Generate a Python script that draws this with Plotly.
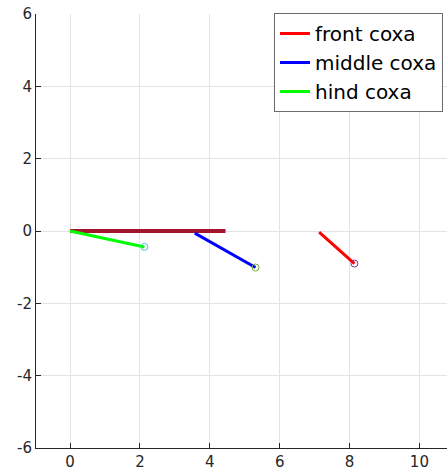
import plotly.graph_objects as go

# Data
body_x = [0.0, 4.45]
body_y = [0.0, 0.0]
front_x = [7.13, 8.14]
front_y = [-0.03, -0.90]
middle_x = [3.57, 5.31]
middle_y = [-0.06, -1.01]
hind_x = [0.0, 2.13]
hind_y = [0.0, -0.44]

x_ticks = [0, 2, 4, 6, 8, 10]
y_ticks = [-6, -4, -2, 0, 2, 4, 6]

font = "DejaVu Sans"
fig = go.Figure()
fig.add_trace(go.Scatter(x=body_x, y=body_y, mode="lines",
                         line=dict(color="#A2142F", width=4), showlegend=False))
fig.add_trace(go.Scatter(x=front_x, y=front_y, mode="lines", name="front coxa",
                         line=dict(color="#FF0000", width=3)))
fig.add_trace(go.Scatter(x=middle_x, y=middle_y, mode="lines", name="middle coxa",
                         line=dict(color="#0000FF", width=3)))
fig.add_trace(go.Scatter(x=hind_x, y=hind_y, mode="lines", name="hind coxa",
                         line=dict(color="#00FF00", width=3)))
# endpoint markers
for xs, ys, c in [(front_x, front_y, "#7E2F8E"), (middle_x, middle_y, "#77AC30"),
                  (hind_x, hind_y, "#4DBEEE")]:
    fig.add_trace(go.Scatter(x=[xs[-1]], y=[ys[-1]], mode="markers", showlegend=False,
                             marker=dict(symbol="circle-open", size=7, color=c,
                                         line=dict(width=1, color=c))))

axis_common = dict(showgrid=True, gridcolor="#e3e3e3", gridwidth=1, zeroline=False,
                   showline=True, linecolor="#262626", linewidth=1,
                   ticks="inside", ticklen=5, tickcolor="#262626",
                   tickfont=dict(family=font, size=15, color="#262626"))
fig.update_xaxes(range=[-0.974, 10.79], tickvals=x_ticks,
                 ticktext=[str(v) for v in x_ticks], **axis_common)
fig.update_yaxes(range=[-6, 6], tickvals=y_ticks,
                 ticktext=[str(v) for v in y_ticks], **axis_common)

fig.update_layout(
    width=447, height=476,
    margin=dict(l=36, r=0, t=14, b=28, autoexpand=False),
    plot_bgcolor="white", paper_bgcolor="white",
    font=dict(family=font, color="#000000"),
    legend=dict(x=0.579, y=1.0023, xanchor="left", yanchor="top",
                bgcolor="white", bordercolor="#6b6b6b", borderwidth=1,
                font=dict(family=font, size=20, color="#000000"),
                tracegroupgap=0, itemwidth=30),
)
fig.write_html("out.html")
